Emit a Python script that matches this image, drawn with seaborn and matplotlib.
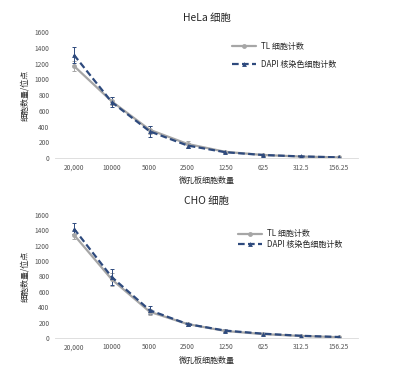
import numpy as np
import pandas as pd
import seaborn as sns
import matplotlib.pyplot as plt

sns.set_style('white')
plt.rcParams['font.family'] = ['Noto Sans CJK SC', 'DejaVu Sans']

cells = ['20,000', '10000', '5000', '2500', '1250', '625', '312.5', '156.25']

# HeLa
hela_tl = [1170, 720, 360, 180, 80, 40, 20, 10]
hela_tl_err = [60, 50, 50, 40, 15, 10, 8, 5]
hela_dapi = [1310, 710, 340, 160, 75, 40, 22, 10]
hela_dapi_err = [100, 60, 70, 30, 15, 10, 8, 5]

# CHO
cho_tl = [1340, 760, 340, 180, 90, 50, 25, 10]
cho_tl_err = [60, 90, 40, 20, 15, 10, 8, 5]
cho_dapi = [1420, 790, 360, 180, 95, 55, 28, 12]
cho_dapi_err = [70, 100, 50, 20, 15, 10, 8, 5]

tl_color = '#a6a6a6'
dapi_color = '#2e4a7d'

fig = plt.figure(figsize=(3.93, 3.73), dpi=100)
ax1 = fig.add_axes([0.14, 0.576, 0.771, 0.338])
ax2 = fig.add_axes([0.14, 0.094, 0.771, 0.330])


def draw(ax, tl, tl_err, dapi, dapi_err, title, legend_loc, spacing):
    df = pd.DataFrame({'cells': cells, 'TL 细胞计数': tl, 'DAPI 核染色细胞计数': dapi})
    long = df.melt(id_vars='cells', var_name='方法', value_name='count')
    x = np.arange(len(cells))
    ax.errorbar(x, tl, yerr=tl_err, fmt='none', ecolor=tl_color, elinewidth=0.7, capsize=1.5, capthick=0.7)
    ax.errorbar(x, dapi, yerr=dapi_err, fmt='none', ecolor=dapi_color, elinewidth=0.7, capsize=1.5, capthick=0.7)
    sns.lineplot(data=long, x='cells', y='count', hue='方法', style='方法',
                 palette=[tl_color, dapi_color], dashes=[(None, None), (3, 1.5)],
                 markers=['o', '^'], markersize=3.5, markeredgewidth=0, linewidth=1.6,
                 sort=False, ax=ax)
    ax.set_xlim(-0.5, len(cells) - 0.5)
    ax.set_ylim(0, 1600)
    ax.set_yticks(range(0, 1601, 200))
    ax.tick_params(labelsize=4.8, colors='#555555', length=0)
    ax.tick_params(axis='x', pad=4)
    ax.tick_params(axis='y', pad=4)
    for s in ['top', 'right', 'left']:
        ax.spines[s].set_visible(False)
    ax.spines['bottom'].set_color('#d9d9d9')
    ax.spines['bottom'].set_linewidth(0.6)
    ax.set_xlabel('微孔板细胞数量', fontsize=5.8, labelpad=3)
    ax.set_ylabel('细胞数量/位点', fontsize=5.8, labelpad=4)
    ax.set_title(title, fontsize=7.5, pad=8)
    leg = ax.legend(loc='upper left', bbox_to_anchor=legend_loc, frameon=False,
                    fontsize=5.8, handlelength=3, handletextpad=0.6, labelspacing=spacing)
    return leg


draw(ax1, hela_tl, hela_tl_err, hela_dapi, hela_dapi_err, 'HeLa 细胞', (0.56, 0.98), 1.1)
draw(ax2, cho_tl, cho_tl_err, cho_dapi, cho_dapi_err, 'CHO 细胞', (0.58, 0.94), 0.2)

fig.savefig('out.png', dpi=100)
